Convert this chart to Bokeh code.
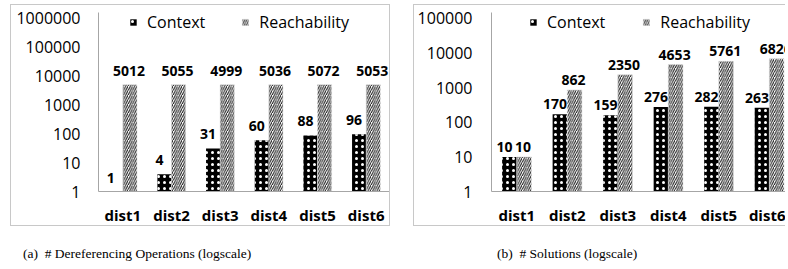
from bokeh.plotting import figure
from bokeh.layouts import row, column
from bokeh.models import (ColumnDataSource, Range1d, FixedTicker, PrintfTickFormatter,
                          Legend, LegendItem, Div, Spacer)
from bokeh.embed import file_html
from bokeh.resources import INLINE
from bokeh.core.properties import value

# ---------------- data ----------------
categories = ["dist1", "dist2", "dist3", "dist4", "dist5", "dist6"]
deref_context = [1, 4, 31, 60, 88, 96]
deref_reach = [5012, 5055, 4999, 5036, 5072, 5053]
sol_context = [10, 170, 159, 276, 282, 263]
sol_reach = [10, 862, 2350, 4653, 5761, 6826]
deref_yticks = [1, 10, 100, 1000, 10000, 100000, 1000000]
sol_yticks = [1, 10, 100, 1000, 10000, 100000]
series_names = ["Context", "Reachability"]
captions = ["(a)&nbsp;&nbsp;# Dereferencing Operations (logscale)",
            "(b)&nbsp;&nbsp;# Solutions (logscale)"]

FONT = "Open Sans"
AXIS_COLOR = "#a6a6a6"
BOX_COLOR = "#c8c8c8"


def make_panel(context, reach, yticks, width, x_end, min_left, min_right,
               standoff, decade_px, label_dy, legend_loc, legend_spacing, styles):
    n = len(categories)
    xs = [i + 0.5 for i in range(n)]
    src = ColumnDataSource(dict(
        x=xs,
        xc=[x - 0.145 for x in xs],
        xr=[x + 0.145 for x in xs],
        context=context,
        reach=reach,
        clab=[str(v) for v in context],
        rlab=[str(v) for v in reach],
    ))
    # a little head room above the top tick (6 px) so the legend fits the frame
    y_end = yticks[-1] * 10 ** (6.0 / decade_px)
    p = figure(width=width, height=222,
               x_range=Range1d(0, x_end), y_range=Range1d(1, y_end),
               y_axis_type="log", output_backend="svg", toolbar_location=None,
               min_border_left=min_left, min_border_right=min_right,
               min_border_top=7, min_border_bottom=34,
               outline_line_color=None, background_fill_color="white",
               border_fill_color="white", styles=styles)
    r1 = p.vbar(x="xc", top="context", bottom=1, width=0.29, source=src,
                fill_color="black", line_color=None,
                hatch_pattern="dot", hatch_color="white", hatch_scale=6,
                hatch_weight=0.7)
    r2 = p.vbar(x="xr", top="reach", bottom=1, width=0.29, source=src,
                fill_color="white", line_color="#d9d9d9", line_width=0.5,
                hatch_pattern="/", hatch_color="#111111", hatch_scale=4.5,
                hatch_weight=1)
    p.text(x="xc", y="context", text="clab", source=src, x_offset=-5,
           y_offset=-label_dy, text_align="center", text_baseline="middle",
           text_font=value(FONT), text_font_style="bold",
           text_font_size="14px", text_color="black")
    p.text(x="xr", y="reach", text="rlab", source=src, x_offset=-1,
           y_offset=-label_dy, text_align="center", text_baseline="middle",
           text_font=value(FONT), text_font_style="bold",
           text_font_size="14px", text_color="black")

    p.xgrid.visible = False
    p.ygrid.visible = False

    xa = p.xaxis[0]
    xa.ticker = FixedTicker(ticks=xs)
    xa.major_label_overrides = {x: c for x, c in zip(xs, categories)}
    xa.axis_line_color = AXIS_COLOR
    xa.major_tick_line_color = None
    xa.minor_tick_line_color = None
    xa.major_tick_out = 0
    xa.minor_tick_out = 0
    xa.axis_label_standoff = 0
    xa.major_label_standoff = 13
    xa.major_label_text_font = FONT
    xa.major_label_text_font_style = "bold"
    xa.major_label_text_font_size = "15px"
    xa.major_label_text_color = "black"

    ya = p.yaxis[0]
    ya.ticker = FixedTicker(ticks=yticks, minor_ticks=[])
    ya.formatter = PrintfTickFormatter(format="%d")
    ya.axis_line_color = AXIS_COLOR
    ya.major_tick_line_color = None
    ya.minor_tick_line_color = None
    ya.major_tick_out = 0
    ya.minor_tick_out = 0
    ya.axis_label_standoff = 0
    ya.major_label_standoff = standoff
    ya.major_label_text_font = FONT
    ya.major_label_text_font_size = "16px"
    ya.major_label_text_color = "black"

    legend = Legend(items=[LegendItem(label=series_names[0], renderers=[r1]),
                           LegendItem(label=series_names[1], renderers=[r2])],
                    orientation="horizontal", location=legend_loc,
                    padding=0, margin=0, spacing=legend_spacing,
                    glyph_width=8, glyph_height=8, label_standoff=10,
                    label_text_font=FONT, label_text_font_size="16px",
                    label_text_color="black",
                    border_line_color=None, background_fill_alpha=0)
    p.add_layout(legend)
    return p


p1 = make_panel(deref_context, deref_reach, deref_yticks, width=380, x_end=6,
                min_left=87, min_right=1, standoff=18, decade_px=29.17,
                label_dy=14, legend_loc=(31, 158), legend_spacing=36,
                styles={"border": f"1px solid {BOX_COLOR}"})
p2 = make_panel(sol_context, sol_reach, sol_yticks, width=372, x_end=5.84,
                min_left=77, min_right=0, standoff=19, decade_px=35.0,
                label_dy=10, legend_loc=(38, 158), legend_spacing=37,
                styles={"border-left": f"1px solid {BOX_COLOR}",
                        "border-top": f"1px solid {BOX_COLOR}",
                        "border-bottom": f"1px solid {BOX_COLOR}"})

cap_style = ("position:absolute;top:0;font-family:'Liberation Serif';font-size:13.5px;"
             "line-height:16px;color:black;white-space:nowrap;")
cap = Div(text=(f'<div style="position:relative;width:788px;height:16px;">'
                f'<span style="{cap_style}left:23px;">{captions[0]}</span>'
                f'<span style="{cap_style}left:497px;">{captions[1]}</span></div>'),
          width=788, height=16, margin=0)

layout = column(
    row(Spacer(width=10, margin=0), p1, Spacer(width=23, margin=0), p2, margin=0),
    Spacer(height=20, margin=0),
    cap,
    margin=(4, 0, 0, 0),
)

open("out.html", "w").write(file_html(layout, INLINE))
